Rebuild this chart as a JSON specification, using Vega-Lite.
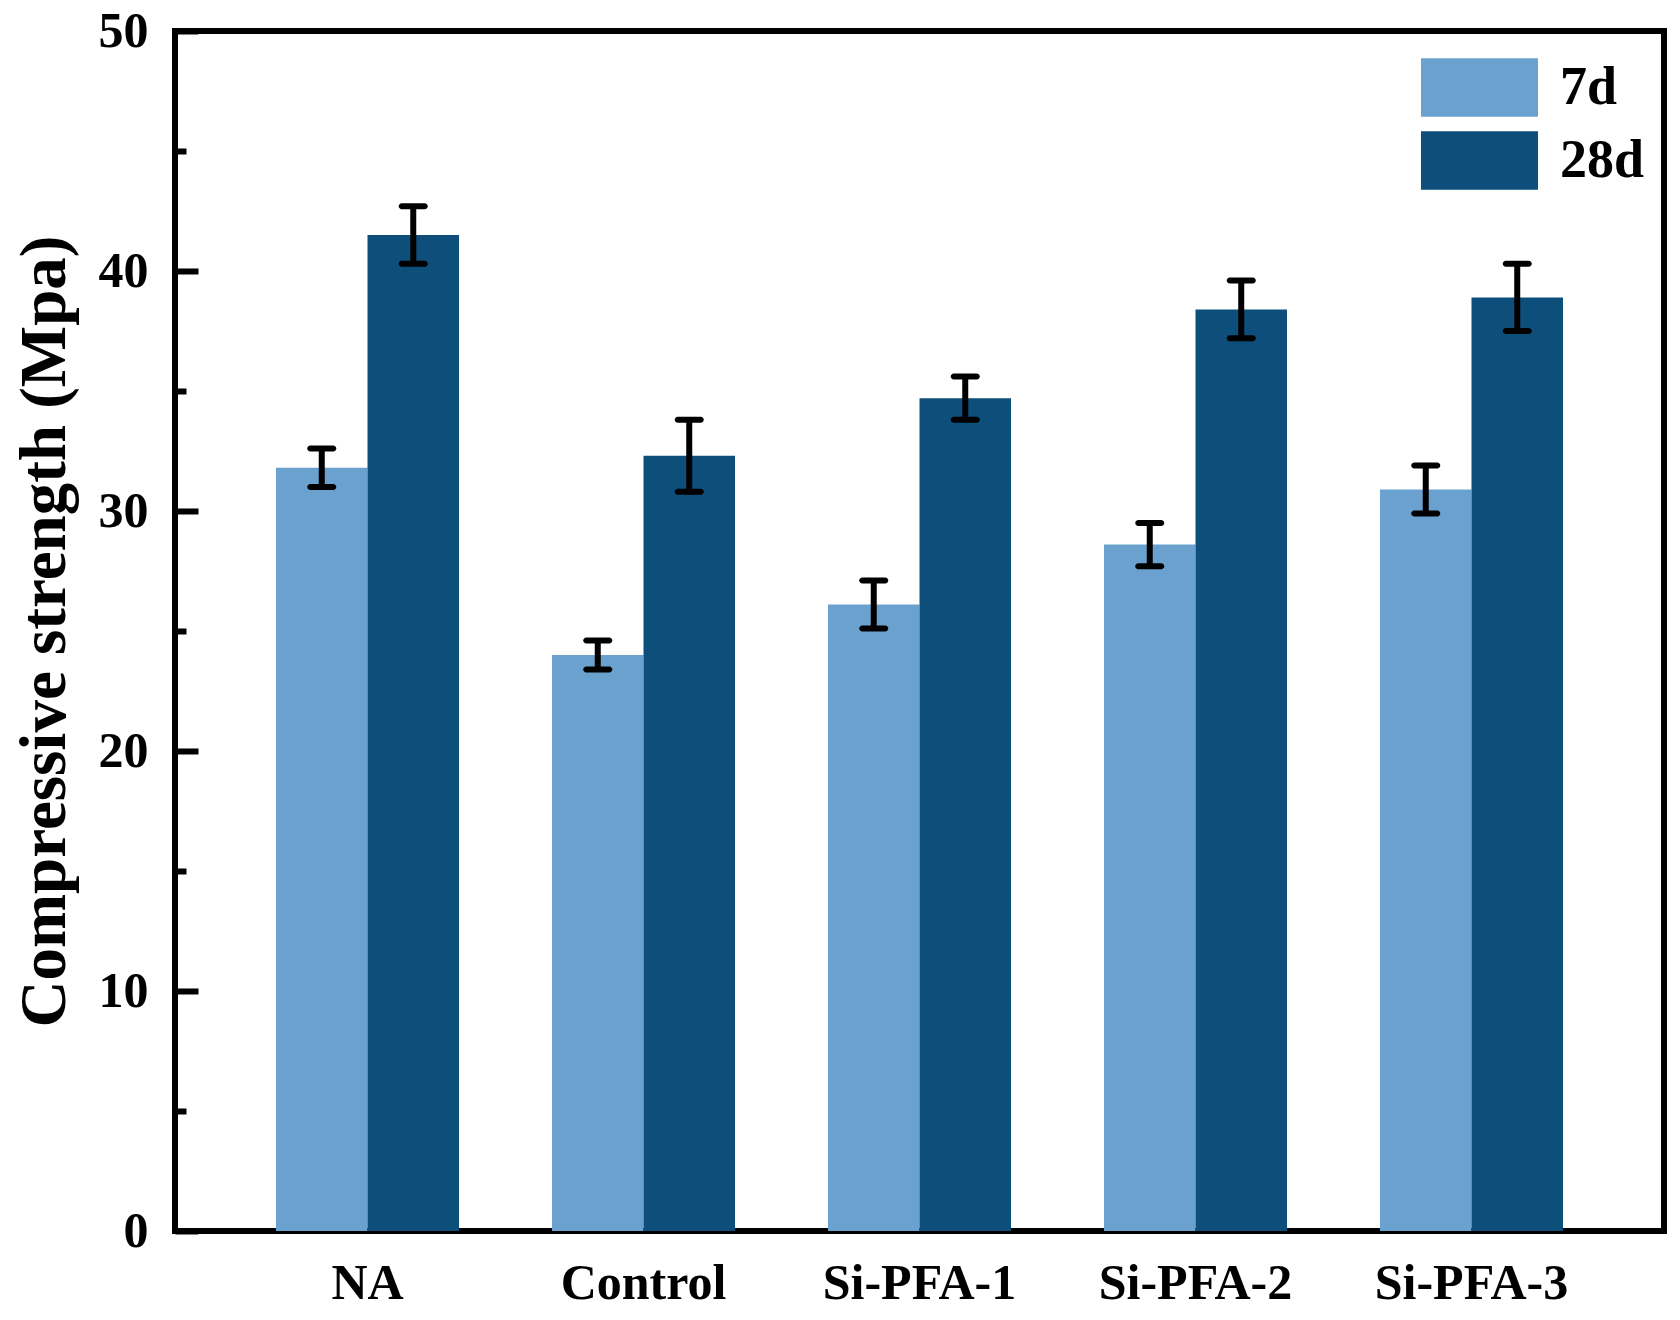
{
  "$schema": "https://vega.github.io/schema/vega-lite/v6.json",
  "width": 1489,
  "height": 1200,
  "autosize": {"type": "none"},
  "padding": {"left": 175, "top": 31, "right": 16, "bottom": 89},
  "background": "white",
  "config": {
    "view": {"stroke": "black", "strokeWidth": 6},
    "font": "Liberation Serif",
    "legend": {
      "orient": "none",
      "legendX": 1275,
      "legendY": 27,
      "symbolType": "M-2,-1H2V1H-2Z",
      "symbolSize": 3422,
      "labelFontSize": 54,
      "labelFontWeight": "bold",
      "labelColor": "black",
      "labelOffset": 51,
      "rowPadding": 14,
      "padding": 0,
      "symbolStrokeWidth": 0,
      "symbolOpacity": 1
    }
  },
  "data": {
    "values": [
      {"group": "NA", "age": "7d", "value": 31.8, "lo": 31.0, "hi": 32.6},
      {"group": "NA", "age": "28d", "value": 41.5, "lo": 40.3, "hi": 42.7},
      {"group": "Control", "age": "7d", "value": 24.0, "lo": 23.4, "hi": 24.6},
      {"group": "Control", "age": "28d", "value": 32.3, "lo": 30.8, "hi": 33.8},
      {"group": "Si-PFA-1", "age": "7d", "value": 26.1, "lo": 25.1, "hi": 27.1},
      {"group": "Si-PFA-1", "age": "28d", "value": 34.7, "lo": 33.8, "hi": 35.6},
      {"group": "Si-PFA-2", "age": "7d", "value": 28.6, "lo": 27.7, "hi": 29.5},
      {"group": "Si-PFA-2", "age": "28d", "value": 38.4, "lo": 37.2, "hi": 39.6},
      {"group": "Si-PFA-3", "age": "7d", "value": 30.9, "lo": 29.9, "hi": 31.9},
      {"group": "Si-PFA-3", "age": "28d", "value": 38.9, "lo": 37.5, "hi": 40.3}
    ]
  },
  "encoding": {
    "x": {
      "field": "group",
      "type": "nominal",
      "sort": ["NA", "Control", "Si-PFA-1", "Si-PFA-2", "Si-PFA-3"],
      "scale": {"paddingInner": 0.337, "paddingOuter": 0.366},
      "axis": {
        "title": null,
        "ticks": false,
        "domain": false,
        "labelAngle": 0,
        "labelFontSize": 50,
        "labelFontWeight": "bold",
        "labelColor": "black",
        "labelPadding": 27,
        "labelLimit": 0
      }
    },
    "xOffset": {
      "field": "age",
      "type": "nominal",
      "sort": ["7d", "28d"],
      "scale": {"paddingInner": 0, "paddingOuter": 0}
    }
  },
  "layer": [
    {
      "mark": {"type": "bar"},
      "encoding": {
        "y": {
          "field": "value",
          "type": "quantitative",
          "title": "Compressive strength (Mpa)",
          "scale": {"domain": [0, 50], "nice": false},
          "axis": {
            "values": [0, 5, 10, 15, 20, 25, 30, 35, 40, 45, 50],
            "labelExpr": "datum.value % 10 === 0 ? datum.label : ''",
            "tickSize": {"condition": {"test": "datum.value % 10 === 0", "value": -23}, "value": -11},
            "tickWidth": 6,
            "tickColor": "black",
            "domain": false,
            "grid": false,
            "labelFontSize": 50,
            "labelFontWeight": "bold",
            "labelColor": "black",
            "labelPadding": 50,
            "titleFontSize": 65,
            "titleFontWeight": "bold",
            "titleColor": "black",
            "titlePadding": 20
          }
        },
        "color": {
          "field": "age",
          "type": "nominal",
          "sort": ["7d", "28d"],
          "scale": {"domain": ["7d", "28d"], "range": ["#6BA1CF", "#0D4E7B"]},
          "legend": {"title": null}
        }
      }
    },
    {
      "mark": {"type": "rule", "strokeWidth": 6, "color": "black"},
      "encoding": {
        "y": {"field": "lo", "type": "quantitative", "title": "Compressive strength (Mpa)"},
        "y2": {"field": "hi"}
      }
    },
    {
      "mark": {"type": "tick", "thickness": 6, "size": 29, "color": "black", "cornerRadius": 3, "opacity": 1},
      "encoding": {
        "y": {"field": "lo", "type": "quantitative", "title": "Compressive strength (Mpa)"}
      }
    },
    {
      "mark": {"type": "tick", "thickness": 6, "size": 29, "color": "black", "cornerRadius": 3, "opacity": 1},
      "encoding": {
        "y": {"field": "hi", "type": "quantitative", "title": "Compressive strength (Mpa)"}
      }
    }
  ]
}
